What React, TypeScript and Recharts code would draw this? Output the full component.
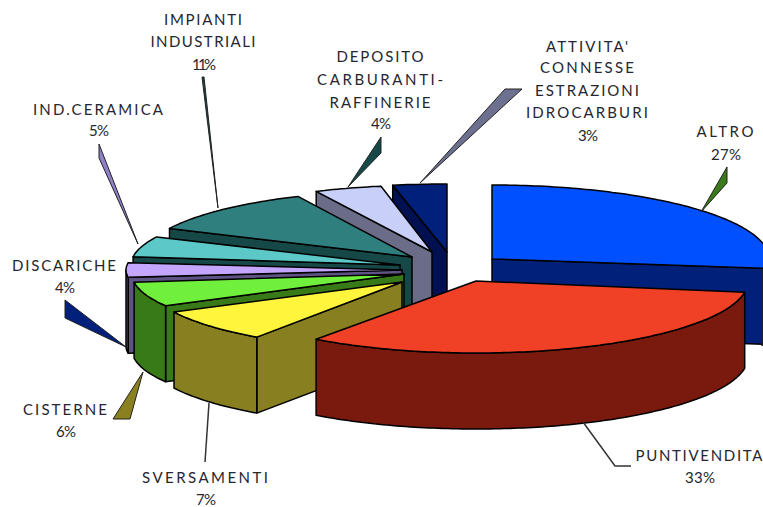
import React from 'react';
import { PieChart, Pie } from 'recharts';

// Data, in drawing order (back to front), counter-clockwise from just below 3 o'clock
const categories = ['ALTRO', "ATTIVITA'", 'DEPOSITO', 'IMPIANTI', 'CERAMICA', 'DISCARICHE', 'CISTERNE', 'SVERSAMENTI', 'PUNTIVENDITA'];
const shares = [27, 3, 4, 11, 5, 4, 6, 7, 33];
const labelLines = [
  ['ALTRO'],
  ["ATTIVITA'", 'CONNESSE', 'ESTRAZIONI', 'IDROCARBURI'],
  ['DEPOSITO', 'CARBURANTI-', 'RAFFINERIE'],
  ['IMPIANTI', 'INDUSTRIALI'],
  ['IND.CERAMICA'],
  ['DISCARICHE'],
  ['CISTERNE'],
  ['SVERSAMENTI'],
  ['PUNTIVENDITA'],
];

const data = categories.map((name, i) => ({ name, value: shares[i] }));

// Styles and 3D layout
const W = 763, H = 507, CX = 430, CY = 265, R = 270, DEPTH = 76;
const topColors = ['#0050FF', '#00207C', '#C8D0FA', '#2F7F7F', '#5CC8C8', '#C4A6FF', '#70F03C', '#FFF53C', '#F04026'];
const sideColors = ['#00207A', '#001050', '#6A6C88', '#174848', '#174848', '#5F5385', '#387A18', '#887F20', '#7A1A0E'];
const tipX = [492, 447, 432, 412, 400, 402, 404, 402, 476];
const tipY = [259, 252, 252, 257, 265, 270, 274, 282, 281];
const radiusX = [277, 290, 272, 268, 269, 276, 272, 255, 272];
const radiusY = [74, 68, 67, 67, 66, 58, 66, 67, 72];
// Perspective nudges of the drawn wedge edges, in degrees
const nudgeStart = [0, 0, 0, 0, 0, 0, 0, -2.2, 0];
const nudgeEnd = [0, 0, 0, 0, 0, 0, 0, 1.3, -1.8];

// Label layout: centre x, line baselines, line widths
const labelX = [725, 587, 380, 203, 98, 64, 65, 205, 699];
const labelBase = [[137, 160], [52, 73, 96, 118, 141], [62, 85, 108, 129], [25, 47, 70], [115, 136], [271, 293], [415, 437], [483, 505], [461, 483]];
const labelWidth = [[57], [82, 94, 104, 122], [87, 126, 101], [78, 105], [130], [104], [84], [126], [127]];
const pctWidth = [30, 20, 20, 24, 20, 20, 20, 20, 30];

// Call-out leaders
const leaders = [
  { pts: '701,212 727,167 727,183', fill: '#3A7A1A' },
  { pts: '420,183 505,89 522,89', fill: '#6E7090' },
  { pts: '348,187 381,137 381,153', fill: '#174848' },
  { pts: '202,77 204,77 218,208', fill: '#174848' },
  { pts: '99,144 99,158 138,244', fill: '#9080C8' },
  { pts: '65,300 65,318 126,347', fill: '#00207C' },
  { pts: '143,372 113,419 130,419', fill: '#8A8020' },
  { pts: '209,403 205,462', fill: 'none' },
  { pts: '583,422 615,466 631,466', fill: 'none' },
];

const RAD = Math.PI / 180;
const idx = (p: any) => categories.indexOf(p.name ?? p.payload?.name);

function SliceShape(props: any) {
  const i = idx(props);
  const s = props.startAngle + nudgeStart[i];
  const e = props.endAngle + nudgeEnd[i];
  const x0 = tipX[i], y0 = tipY[i], a = radiusX[i], b = radiusY[i];
  const pt = (t: number, d = 0) => [x0 + a * Math.cos(t * RAD), y0 - b * Math.sin(t * RAD) + d];
  const arc = (from: number, to: number, d = 0) => {
    const out: number[][] = [];
    const n = Math.max(2, Math.ceil(Math.abs(to - from)));
    for (let k = 0; k <= n; k++) out.push(pt(from + ((to - from) * k) / n, d));
    return out;
  };
  const P = (pts: number[][]) => pts.map((q) => q[0].toFixed(1) + ',' + q[1].toFixed(1)).join(' ');
  const common = { stroke: '#000', strokeWidth: 1.5, strokeLinejoin: 'round' as const };
  const walls: React.ReactNode[] = [];
  const tip = [x0, y0], tipLow = [x0, y0 + DEPTH];
  if (Math.cos(s * RAD) > 0.001) walls.push(<polygon key="ws" points={P([tip, pt(s), pt(s, DEPTH), tipLow])} fill={sideColors[i]} {...common} />);
  if (Math.cos(e * RAD) < -0.001) walls.push(<polygon key="we" points={P([tip, pt(e), pt(e, DEPTH), tipLow])} fill={sideColors[i]} {...common} />);
  const ranges = [[Math.max(s, 180), Math.min(e, 360)], [Math.max(s, -180), Math.min(e, 0)]];
  ranges.forEach(([lo, hi], k) => {
    if (hi > lo) {
      walls.push(<polygon key={'o' + k} points={P([...arc(lo, hi), ...arc(hi, lo, DEPTH)])} fill={sideColors[i]} {...common} />);
    }
  });
  return (
    <g>
      {walls}
      {i === 0 ? <line x1={762} y1={269} x2={762} y2={346} stroke="#222" strokeWidth={1.5} /> : null}
      <polygon points={P([tip, ...arc(s, e)])} fill={topColors[i]} {...common} />
    </g>
  );
}

function SliceLabel(props: any) {
  const i = idx(props);
  const lines = labelLines[i];
  const bases = labelBase[i];
  const txt = { textAnchor: 'middle' as const, fontFamily: 'Lato, sans-serif', fontSize: 15, fill: '#262630', lengthAdjust: 'spacing' };
  const open = leaders[i].fill === 'none';
  return (
    <g>
      <polyline
        points={leaders[i].pts + (open ? '' : ' ' + leaders[i].pts.split(' ')[0])}
        fill={leaders[i].fill}
        stroke={open ? '#333' : '#222'}
        strokeWidth={open ? 1.5 : 1}
      />
      {lines.map((l, k) => (
        <text key={k} x={labelX[i]} y={bases[k]} textLength={labelWidth[i][k]} {...txt}>{l}</text>
      ))}
      <text x={labelX[i] + 1} y={bases[lines.length]} textLength={pctWidth[i]} {...txt}>{shares[i] + '%'}</text>
    </g>
  );
}

export default function App() {
  return (
    <div style={{ position: 'absolute', left: 0, top: 0, width: W, height: H, background: '#fff', overflow: 'hidden' }}>
      <PieChart width={W} height={H} margin={{ top: 0, right: 0, bottom: 0, left: 0 }}>
        <Pie
          data={data}
          dataKey="value"
          nameKey="name"
          cx={CX}
          cy={CY}
          innerRadius={0}
          outerRadius={R}
          startAngle={-7.2}
          endAngle={352.8}
          paddingAngle={0}
          isAnimationActive={false}
          shape={SliceShape}
          label={SliceLabel}
          labelLine={false}
        />
      </PieChart>
    </div>
  );
}
